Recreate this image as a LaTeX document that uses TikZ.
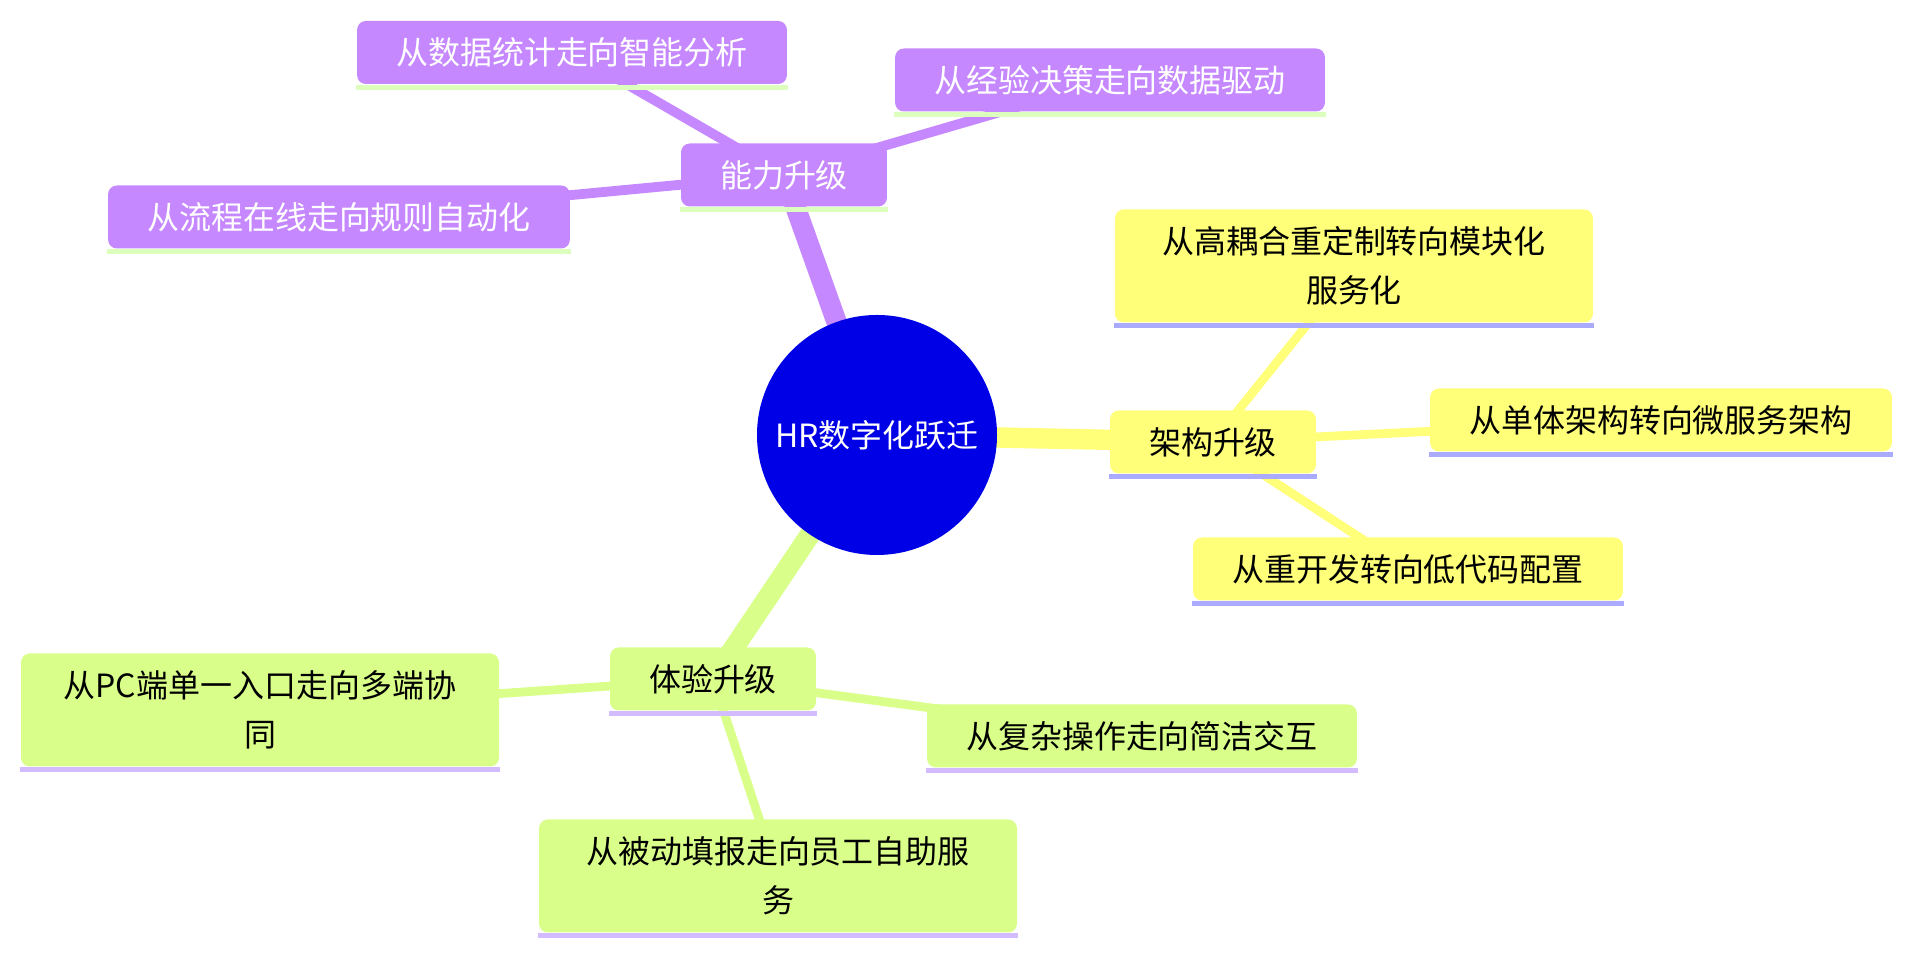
\documentclass[tikz,border=0pt]{standalone}
\usepackage{fontspec}
\setmainfont{Noto Sans CJK SC}
\usetikzlibrary{calc}

\definecolor{rootfill}{HTML}{0000E6}
\definecolor{capfill}{HTML}{C688FF}
\definecolor{archfill}{HTML}{FFFF7A}
\definecolor{expfill}{HTML}{D9FF8A}
\definecolor{capline}{HTML}{DCFFBE}
\definecolor{archline}{HTML}{AAAAFF}
\definecolor{expline}{HTML}{D2BBFF}

\pgfdeclarelayer{links}
\pgfsetlayers{links,main}

\tikzset{
  topic/.style={rounded corners=2.5pt,inner xsep=0.39cm,inner ysep=0pt,
    minimum height=0.63cm,font=\fontsize{9.1pt}{13.9pt}\selectfont},
  captopic/.style={topic,fill=capfill,text=white},
  archtopic/.style={topic,fill=archfill,text=black},
  exptopic/.style={topic,fill=expfill,text=black},
  twoline/.style={text width=4.0cm,align=center,minimum height=1.13cm},
  mainlink/.style={line width=5.8pt},
  sublink/.style={line width=2.5pt}
}

\begin{document}
\begin{tikzpicture}

\useasboundingbox (0,0) rectangle (19.13,-9.54);

% Root
\node[circle,fill=rootfill,text=white,minimum size=2.4cm,inner sep=0pt,
  font=\fontsize{9.1pt}{13.9pt}\selectfont] (root) at (8.77,-4.35){HR数字化跃迁};

% Capability branch
\node[captopic] (cap) at (7.84,-1.75){能力升级};
\node[captopic] (capA) at (5.72,-0.525){从数据统计走向智能分析};
\node[captopic] (capB) at (11.10,-0.80){从经验决策走向数据驱动};
\node[captopic] (capC) at (3.39,-2.17){从流程在线走向规则自动化};

% Architecture branch
\node[archtopic] (arch) at (12.13,-4.42){架构升级};
\node[archtopic,twoline] (archA) at (13.54,-2.66){从高耦合重定制转向模块化\\服务化};
\node[archtopic] (archB) at (16.61,-4.20){从单体架构转向微服务架构};
\node[archtopic] (archC) at (14.08,-5.69){从重开发转向低代码配置};

% Experience branch
\node[exptopic] (exp) at (7.13,-6.79){体验升级};
\node[exptopic,twoline] (expA) at (2.60,-7.10){从PC端单一入口走向多端协\\同};
\node[exptopic] (expB) at (11.42,-7.36){从复杂操作走向简洁交互};
\node[exptopic,twoline] (expC) at (7.78,-8.76){从被动填报走向员工自助服\\务};

% Underlines
\foreach \n/\c in {cap/capline,capA/capline,capB/capline,capC/capline,
  arch/archline,archA/archline,archB/archline,archC/archline,
  exp/expline,expA/expline,expB/expline,expC/expline}
{
\fill[\c] (\n.south west) rectangle ([yshift=-0.05cm]\n.south east);
}

% Links
\begin{pgfonlayer}{links}
\draw[capfill,mainlink] (root.center)--(cap.center);
\draw[archfill,mainlink] (root.center)--(arch.center);
\draw[expfill,mainlink] (root.center)--(exp.center);
\foreach \t in {capA,capB,capC}
{
\draw[capfill,line width=2.8pt] (cap.center)--(\t.center);
}
\foreach \t in {archA,archB,archC}
{
\draw[archfill,sublink] (arch.center)--(\t.center);
}
\foreach \t in {expA,expB,expC}
{
\draw[expfill,sublink] (exp.center)--(\t.center);
}
\end{pgfonlayer}

\end{tikzpicture}
\end{document}
